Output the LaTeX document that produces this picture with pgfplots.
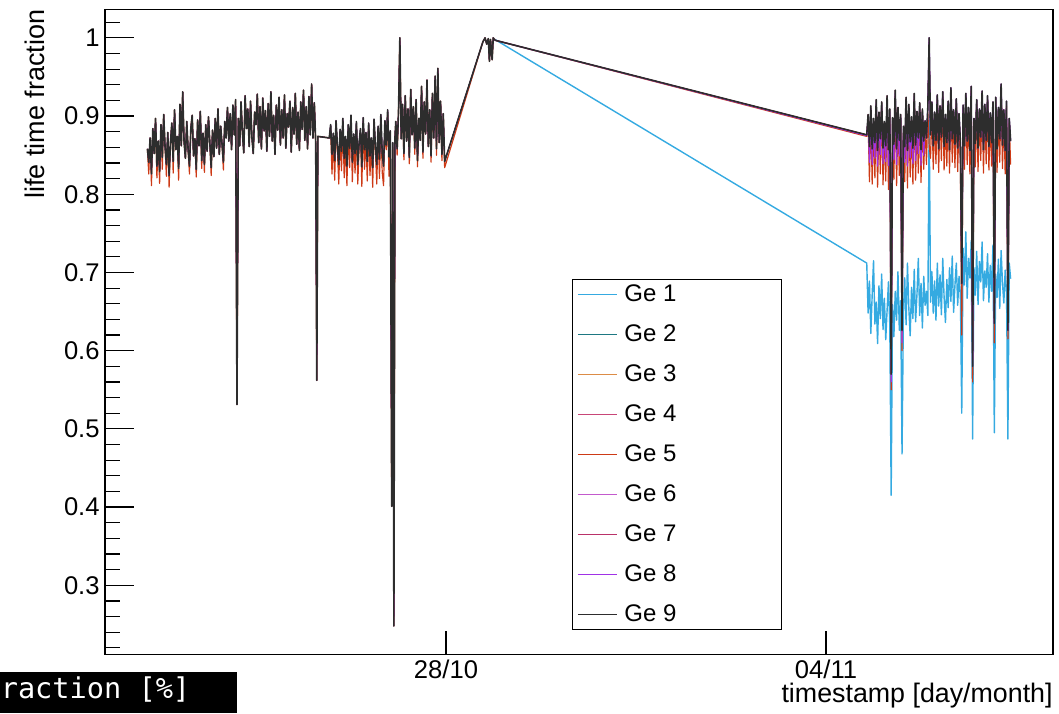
\documentclass[border=0pt]{standalone}
\usepackage{pgfplots}
\usepackage{pgfplotstable}
\pgfplotsset{compat=1.18}
\usepackage{fontspec}
\setmainfont{Liberation Sans}
\newfontfamily\monofont{DejaVu Sans Mono}
\definecolor{ge1}{RGB}{53,170,225}
\definecolor{ge2}{RGB}{30,120,130}
\definecolor{ge3}{RGB}{220,140,70}
\definecolor{ge4}{RGB}{200,70,120}
\definecolor{ge5}{RGB}{205,58,22}
\definecolor{ge6}{RGB}{195,90,205}
\definecolor{ge7}{RGB}{185,50,105}
\definecolor{ge8}{RGB}{160,50,230}
\definecolor{ge9}{RGB}{45,45,45}
\newcommand\legtxt[1]{\makebox[76pt][l]{#1}}

% segments 1 and 2: time (days of Oct), Ge9 (upper, also the hidden ones), Ge5 (lower envelope)
\pgfplotstableread{
t k r
22.500 0.858 0.858
22.525 0.841 0.826
22.550 0.872 0.872
22.575 0.826 0.811
22.600 0.884 0.884
22.625 0.852 0.852
22.650 0.897 0.897
22.675 0.836 0.821
22.700 0.868 0.868
22.725 0.829 0.814
22.750 0.889 0.889
22.775 0.847 0.832
22.800 0.902 0.902
22.825 0.861 0.861
22.850 0.838 0.823
22.875 0.879 0.879
22.900 0.824 0.809
22.925 0.866 0.866
22.950 0.891 0.891
22.975 0.842 0.827
23.000 0.908 0.908
23.025 0.857 0.857
23.050 0.874 0.874
23.075 0.833 0.818
23.100 0.915 0.915
23.125 0.862 0.862
23.150 0.931 0.931
23.175 0.868 0.868
23.200 0.846 0.846
23.225 0.893 0.893
23.250 0.857 0.857
23.275 0.836 0.826
23.300 0.884 0.884
23.325 0.901 0.901
23.350 0.849 0.849
23.375 0.871 0.871
23.400 0.832 0.822
23.425 0.895 0.895
23.450 0.862 0.862
23.475 0.906 0.906
23.500 0.843 0.833
23.525 0.878 0.878
23.550 0.838 0.828
23.575 0.889 0.889
23.600 0.855 0.855
23.625 0.899 0.899
23.650 0.866 0.866
23.675 0.834 0.824
23.700 0.882 0.882
23.725 0.848 0.848
23.750 0.897 0.897
23.775 0.859 0.859
23.800 0.909 0.909
23.825 0.851 0.851
23.850 0.887 0.887
23.875 0.864 0.864
23.900 0.841 0.831
23.925 0.893 0.893
23.950 0.872 0.872
23.975 0.911 0.911
24.000 0.868 0.868
24.025 0.903 0.903
24.050 0.857 0.857
24.075 0.914 0.914
24.100 0.876 0.876
24.125 0.921 0.921
24.150 0.531 0.531
24.175 0.897 0.897
24.200 0.862 0.862
24.225 0.918 0.918
24.250 0.879 0.879
24.275 0.853 0.853
24.300 0.926 0.926
24.325 0.884 0.884
24.350 0.909 0.909
24.375 0.861 0.861
24.400 0.919 0.919
24.425 0.873 0.873
24.450 0.852 0.852
24.475 0.905 0.905
24.500 0.889 0.889
24.525 0.928 0.928
24.550 0.866 0.866
24.575 0.912 0.912
24.600 0.858 0.858
24.625 0.923 0.923
24.650 0.881 0.881
24.675 0.907 0.907
24.700 0.855 0.855
24.725 0.916 0.916
24.750 0.874 0.874
24.775 0.931 0.931
24.800 0.868 0.868
24.825 0.901 0.901
24.850 0.851 0.851
24.875 0.914 0.914
24.900 0.882 0.882
24.925 0.924 0.924
24.950 0.863 0.863
24.975 0.908 0.908
25.000 0.872 0.872
25.025 0.927 0.927
25.050 0.859 0.859
25.075 0.903 0.903
25.100 0.886 0.886
25.125 0.919 0.919
25.150 0.854 0.854
25.175 0.911 0.911
25.200 0.877 0.877
25.225 0.929 0.929
25.250 0.864 0.864
25.275 0.905 0.905
25.300 0.856 0.856
25.325 0.918 0.918
25.350 0.883 0.883
25.375 0.933 0.933
25.400 0.869 0.869
25.425 0.912 0.912
25.450 0.858 0.858
25.475 0.925 0.925
25.500 0.876 0.876
25.525 0.941 0.941
25.550 0.872 0.872
25.575 0.917 0.917
25.600 0.866 0.866
25.620 0.562 0.562
25.640 0.874 0.874
25.850 0.872 0.872
25.875 0.889 0.883
25.900 0.851 0.826
25.925 0.878 0.872
25.950 0.843 0.818
25.975 0.894 0.888
26.000 0.862 0.856
26.025 0.838 0.813
26.050 0.883 0.877
26.075 0.855 0.830
26.100 0.897 0.891
26.125 0.846 0.821
26.150 0.874 0.868
26.175 0.836 0.811
26.200 0.889 0.883
26.225 0.859 0.834
26.250 0.901 0.895
26.275 0.841 0.816
26.300 0.877 0.871
26.325 0.852 0.827
26.350 0.893 0.887
26.375 0.838 0.813
26.400 0.866 0.860
26.425 0.884 0.878
26.450 0.835 0.810
26.475 0.898 0.892
26.500 0.857 0.832
26.525 0.879 0.873
26.550 0.842 0.817
26.575 0.891 0.885
26.600 0.849 0.824
26.625 0.872 0.866
26.650 0.834 0.809
26.675 0.896 0.890
26.700 0.861 0.855
26.725 0.838 0.813
26.750 0.887 0.881
26.775 0.845 0.820
26.800 0.902 0.896
26.825 0.853 0.828
26.850 0.836 0.811
26.875 0.894 0.888
26.900 0.863 0.857
26.925 0.908 0.902
26.950 0.848 0.823
26.975 0.881 0.875
27.000 0.401 0.401
27.020 0.866 0.860
27.040 0.248 0.248
27.060 0.872 0.866
27.075 0.893 0.893
27.100 0.858 0.850
27.125 0.904 0.904
27.150 1.000 1.000
27.175 0.871 0.871
27.200 0.915 0.915
27.225 0.852 0.844
27.250 0.926 0.926
27.275 0.868 0.868
27.300 0.909 0.909
27.325 0.847 0.839
27.350 0.934 0.934
27.375 0.876 0.876
27.400 0.912 0.912
27.425 0.859 0.851
27.450 0.921 0.921
27.475 0.843 0.835
27.500 0.897 0.897
27.525 0.869 0.869
27.550 0.938 0.938
27.575 0.854 0.846
27.600 0.918 0.918
27.625 0.877 0.877
27.650 0.946 0.946
27.675 0.861 0.861
27.700 0.908 0.908
27.725 0.849 0.841
27.750 0.929 0.929
27.775 0.872 0.872
27.800 0.951 0.951
27.825 0.858 0.850
27.850 0.961 0.961
27.875 0.866 0.866
27.900 0.919 0.919
27.925 0.851 0.843
27.950 0.903 0.903
27.975 0.842 0.834
28.680 0.995 0.995
28.720 1.000 1.000
28.750 0.992 0.992
28.780 0.999 0.999
28.800 0.970 0.970
28.820 0.998 0.998
28.850 0.972 0.972
28.870 1.000 1.000
28.900 0.997 0.997
}\Tone

% segment 3: Ge9 (k), Ge5 (r), Ge8 (p), Ge1 (b)
\pgfplotstableread{
t k r p b
28.900 0.997 0.997 0.997 0.998
35.750 0.876 0.874 0.875 0.712
35.775 0.902 0.894 0.898 0.648
35.800 0.861 0.816 0.841 0.689
35.825 0.913 0.905 0.909 0.622
35.850 0.858 0.813 0.838 0.671
35.875 0.897 0.889 0.893 0.715
35.900 0.866 0.821 0.846 0.634
35.925 0.921 0.913 0.917 0.662
35.950 0.856 0.809 0.836 0.609
35.975 0.905 0.897 0.901 0.683
36.000 0.871 0.826 0.851 0.641
36.025 0.918 0.910 0.914 0.698
36.050 0.859 0.812 0.839 0.627
36.075 0.893 0.885 0.889 0.667
36.100 0.862 0.817 0.842 0.614
36.125 0.926 0.918 0.922 0.652
36.150 0.857 0.806 0.837 0.688
36.175 0.909 0.901 0.905 0.631
36.200 0.570 0.550 0.560 0.415
36.225 0.898 0.890 0.894 0.659
36.250 0.864 0.819 0.844 0.618
36.275 0.933 0.925 0.929 0.676
36.300 0.858 0.811 0.838 0.639
36.325 0.911 0.903 0.907 0.701
36.350 0.869 0.824 0.849 0.626
36.375 0.902 0.894 0.898 0.664
36.400 0.626 0.600 0.610 0.468
36.425 0.887 0.879 0.883 0.648
36.450 0.861 0.816 0.841 0.693
36.475 0.924 0.916 0.920 0.633
36.500 0.856 0.808 0.836 0.712
36.525 0.915 0.907 0.911 0.655
36.550 0.867 0.822 0.847 0.619
36.575 0.899 0.891 0.895 0.681
36.600 0.859 0.813 0.839 0.641
36.625 0.929 0.921 0.925 0.704
36.650 0.863 0.818 0.843 0.637
36.675 0.906 0.898 0.902 0.672
36.700 0.872 0.827 0.852 0.718
36.725 0.917 0.909 0.913 0.645
36.750 0.857 0.815 0.837 0.686
36.775 0.909 0.901 0.905 0.629
36.800 0.868 0.832 0.850 0.695
36.825 0.894 0.888 0.894 0.658
36.850 0.872 0.838 0.872 0.676
36.875 0.911 0.905 0.911 0.645
36.900 1.000 0.862 1.000 0.900
36.925 0.876 0.846 0.876 0.662
36.950 0.918 0.912 0.918 0.701
36.975 0.862 0.832 0.862 0.648
37.000 0.905 0.899 0.905 0.689
37.025 0.869 0.839 0.869 0.639
37.050 0.927 0.921 0.927 0.712
37.075 0.858 0.828 0.858 0.657
37.100 0.913 0.907 0.913 0.697
37.125 0.873 0.843 0.873 0.646
37.150 0.931 0.925 0.931 0.718
37.175 0.861 0.831 0.861 0.668
37.200 0.902 0.896 0.902 0.636
37.225 0.866 0.836 0.866 0.691
37.250 0.919 0.913 0.919 0.655
37.275 0.857 0.827 0.857 0.706
37.300 0.936 0.930 0.936 0.663
37.325 0.871 0.841 0.871 0.721
37.350 0.908 0.902 0.908 0.649
37.375 0.864 0.834 0.864 0.684
37.400 0.922 0.916 0.922 0.712
37.425 0.859 0.829 0.859 0.658
37.450 0.903 0.897 0.903 0.695
37.475 0.867 0.837 0.867 0.672
37.500 0.686 0.620 0.686 0.520
37.525 0.914 0.908 0.914 0.731
37.550 0.862 0.832 0.862 0.684
37.575 0.929 0.923 0.929 0.752
37.600 0.868 0.838 0.868 0.667
37.625 0.911 0.905 0.911 0.718
37.650 0.856 0.826 0.856 0.693
37.675 0.938 0.932 0.938 0.741
37.700 0.580 0.560 0.580 0.487
37.725 0.897 0.891 0.897 0.706
37.750 0.865 0.835 0.865 0.671
37.775 0.921 0.915 0.921 0.727
37.800 0.859 0.829 0.859 0.659
37.825 0.909 0.903 0.909 0.714
37.850 0.873 0.843 0.873 0.688
37.875 0.932 0.926 0.932 0.739
37.900 0.857 0.827 0.857 0.664
37.925 0.915 0.909 0.915 0.702
37.950 0.869 0.839 0.869 0.681
37.975 0.926 0.920 0.926 0.724
38.000 0.861 0.831 0.861 0.662
38.025 0.904 0.898 0.904 0.709
38.050 0.866 0.836 0.866 0.676
38.075 0.918 0.912 0.918 0.735
38.100 0.635 0.610 0.635 0.495
38.125 0.924 0.918 0.924 0.698
38.150 0.858 0.828 0.858 0.668
38.175 0.911 0.905 0.911 0.717
38.200 0.871 0.841 0.871 0.654
38.225 0.941 0.935 0.941 0.728
38.250 0.863 0.833 0.863 0.687
38.275 0.908 0.902 0.908 0.661
38.300 0.856 0.826 0.856 0.703
38.325 0.919 0.913 0.919 0.674
38.350 0.626 0.615 0.626 0.487
38.375 0.897 0.891 0.897 0.712
38.400 0.868 0.838 0.868 0.692
}\Tthree

\begin{document}
\begin{tikzpicture}
\begin{axis}[
  name=ax,
  scale only axis,
  width=474pt, height=322.4pt,
  xmin=21.719, xmax=39.181,
  ymin=0.212, ymax=1.0365,
  axis line style={line width=0.6pt, black},
  tick align=inside,
  xtick={28,35}, xticklabels={28/10,04/11},
  xtick pos=bottom, ytick pos=left,
  xtick style={draw=none},
  ytick={0.3,0.4,0.5,0.6,0.7,0.8,0.9,1},
  yticklabels={0.3,0.4,0.5,0.6,0.7,0.8,0.9,1},
  minor ytick={0.22,0.24,0.26,0.28,0.32,0.34,0.36,0.38,0.42,0.44,0.46,0.48,0.52,0.54,0.56,0.58,0.62,0.64,0.66,0.68,0.72,0.74,0.76,0.78,0.82,0.84,0.86,0.88,0.92,0.94,0.96,0.98,1.02},
  major tick length=14.5pt, minor tick length=7.5pt,
  tick style={line width=0.6pt, black},
  ticklabel style={font=\fontsize{12.8}{15}\selectfont},
  yticklabel style={inner sep=0pt, xshift=-2.5pt, anchor=east},
  xticklabel style={inner sep=0pt, yshift=-2.5pt, anchor=north},
  ylabel={life time fraction},
  ylabel style={at={(axis description cs:-0.0633,1)}, anchor=south east, inner sep=0pt, font=\fontsize{13.5}{16}\selectfont},
  xlabel={timestamp [day/month]},
  xlabel style={at={(axis description cs:1,0)}, anchor=north east, inner sep=0pt, yshift=-14.5pt, font=\fontsize{13.4}{16}\selectfont},
  every axis plot/.append style={line width=0.35pt, no markers, line join=round},
  legend image code/.code={\draw[#1, line width=0.6pt] (0pt,0pt) -- (19.5pt,0pt);},
  legend cell align=left,
  legend style={at={(0.4923,0.5812)}, anchor=north west, draw=black, line width=0.5pt, fill=white,
    inner xsep=2.65pt, inner ysep=0.5pt, row sep=6pt, column sep=3.35pt,
    nodes={inner sep=0pt, minimum height=14pt},
    font=\fontsize{12}{14}\selectfont},
  after end axis/.code={
    \draw[line width=0.6pt, black] (axis cs:28,0.212) -- ++(0pt,11.5pt);
    \draw[line width=0.6pt, black] (axis cs:35,0.212) -- ++(0pt,11.5pt);
  },
]
\addplot[ge1] table[x=t,y=k] {\Tone};
\addlegendentry{\legtxt{Ge 1}}
\addplot[ge1, line width=0.7pt, forget plot] table[x=t,y=b] {\Tthree};
\addplot[ge2] table[x=t,y=k] {\Tone};
\addlegendentry{\legtxt{Ge 2}}
\addplot[ge2, forget plot] table[x=t,y=k] {\Tthree};
\addplot[ge3] table[x=t,y=k] {\Tone};
\addlegendentry{\legtxt{Ge 3}}
\addplot[ge3, forget plot] table[x=t,y=k] {\Tthree};
\addplot[ge4] table[x=t,y=k] {\Tone};
\addlegendentry{\legtxt{Ge 4}}
\addplot[ge4, forget plot] table[x=t,y=k] {\Tthree};
\addplot[ge5, line width=0.6pt] table[x=t,y=r] {\Tone};
\addlegendentry{\legtxt{Ge 5}}
\addplot[ge5, line width=0.6pt, forget plot] table[x=t,y=r] {\Tthree};
\addplot[ge6] table[x=t,y=k] {\Tone};
\addlegendentry{\legtxt{Ge 6}}
\addplot[ge6, forget plot] table[x=t,y=k] {\Tthree};
\addplot[ge7] table[x=t,y=k] {\Tone};
\addlegendentry{\legtxt{Ge 7}}
\addplot[ge7, forget plot] table[x=t,y=k] {\Tthree};
\addplot[ge8] table[x=t,y=k] {\Tone};
\addlegendentry{\legtxt{Ge 8}}
\addplot[ge8, line width=0.6pt, forget plot] table[x=t,y=p] {\Tthree};
\addplot[ge9, line width=0.8pt] table[x=t,y=k] {\Tone};
\addlegendentry{\legtxt{Ge 9}}
\addplot[ge9, line width=0.8pt, forget plot] table[x=t,y=k] {\Tthree};
\end{axis}
\fill[black] ([xshift=-52.5pt,yshift=-29.5pt]ax.south west) rectangle ([xshift=65.8pt,yshift=-8.9pt]ax.south west);
\node[anchor=base west, text=white, inner sep=0pt, font=\monofont\fontsize{14.3}{16}\selectfont] at ([xshift=-52.3pt,yshift=-22pt]ax.south west) {raction [\%]};
\path ([xshift=-52.5pt,yshift=-29.5pt]ax.south west) rectangle ([xshift=3pt,yshift=4.65pt]ax.north east);
\end{tikzpicture}
\end{document}
